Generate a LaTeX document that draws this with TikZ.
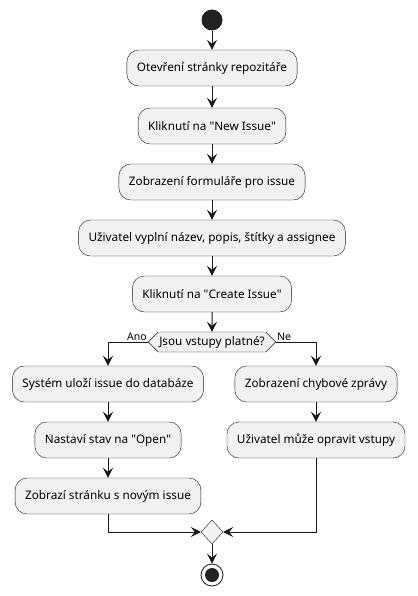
\documentclass[tikz,border=0pt]{standalone}
\usepackage{fontspec}
\setmainfont{Noto Sans}
\usetikzlibrary{arrows.meta,shapes.geometric,shapes.symbols}
\definecolor{actfill}{HTML}{F1F1F1}
\definecolor{actline}{HTML}{181818}
\definecolor{dotfill}{HTML}{222222}

\begin{document}
\begin{tikzpicture}[x=1pt,y=-1pt,font=\fontsize{11.75}{14}\selectfont,
  act/.style={rectangle,rounded corners=12pt,draw=actline,fill=actfill,
    minimum height=36pt,inner xsep=10pt,inner ysep=0pt},
  flow/.style={draw=actline,line width=1pt,-{Stealth[length=10pt,width=10pt,inset=4pt]}}]
\useasboundingbox (0,0) rectangle (417,596);

\node[circle,fill=dotfill,minimum size=21pt,inner sep=0pt] (start) at (212,20) {};

\node[act] (1) at (212,68)  {Otevření stránky repozitáře};
\node[act] (2) at (212,126) {Kliknutí na \textquotedbl New Issue\textquotedbl};
\node[act] (3) at (212,182) {Zobrazení formuláře pro issue};
\node[act] (4) at (212,238) {Uživatel vyplní název, popis, štítky a assignee};
\node[act] (5) at (212,294) {Kliknutí na \textquotedbl Create Issue\textquotedbl};

\node[signal,signal to=west and east,signal pointer angle=90,draw=actline,fill=actfill,
  minimum height=20pt,inner xsep=1pt,inner ysep=0pt] (q) at (212,342) {Jsou vstupy platné?};
\node[anchor=south east,inner sep=1pt,font=\fontsize{10.5}{12}\selectfont] (ano) at (q.west) {Ano};
\node[anchor=south west,inner sep=1pt,font=\fontsize{10.5}{12}\selectfont] (ne) at (q.east) {Ne};

\node[act] (l1) at (108,384) {Systém uloží issue do databáze};
\node[act] (l2) at (108,440) {Nastaví stav na \textquotedbl Open\textquotedbl};
\node[act] (l3) at (108,496) {Zobrazí stránku s novým issue};

\node[act] (r1) at (316,384) {Zobrazení chybové zprávy};
\node[act] (r2) at (316,440) {Uživatel může opravit vstupy};

\node[diamond,draw=actline,fill=actfill,minimum width=22pt,minimum height=24pt,inner sep=0pt] (m) at (212,532) {};

\node[circle,draw=actline,thick,fill=white,minimum size=22pt,inner sep=0pt] (stop) at (212,575) {};
\node[circle,fill=dotfill,minimum size=14pt,inner sep=0pt] (stopdot) at (212,575) {};

\draw[flow] (start) -- (1);
\draw[flow] (1) -- (2);
\draw[flow] (2) -- (3);
\draw[flow] (3) -- (4);
\draw[flow] (4) -- (5);
\draw[flow] (5) -- (q);

\draw[flow] (q.west) -| (l1.north);
\draw[flow] (q.east) -| (r1.north);

\draw[flow] (l1) -- (l2);
\draw[flow] (l2) -- (l3);
\draw[flow] (r1) -- (r2);

\draw[flow] (l3.south) |- (m.west);
\draw[flow] (r2.south) |- (m.east);
\draw[flow] (m) -- (stop);

\end{tikzpicture}
\end{document}
